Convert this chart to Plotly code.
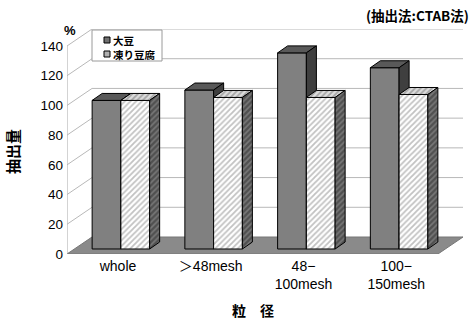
import plotly.graph_objects as go

# --- data -------------------------------------------------------------
categories = ["whole", "＞48mesh", "48−<br>100mesh", "100−<br>150mesh"]
series_names = ["大豆", "凍り豆腐"]
soybean = [100, 107, 132, 122]
frozen_tofu = [100, 102, 102, 104]
y_ticks = [0, 20, 40, 60, 80, 100, 120, 140]

# --- 3-D look parameters (data units) ---------------------------------
DX, DY = 0.27, 11.44        # depth of the floor / walls
BW = 0.31                   # bar width
BDX, BDY = 0.108, 4.7       # depth of each bar
OX, OY = (DX - BDX) / 2, (DY - BDY) / 2   # bars sit mid-depth
YMAX = 140

W, H = 473, 320
ML, MR, MT, MB = 67, 10, 29, 66
PW, PH = W - ML - MR, H - MT - MB

n = len(categories)
x0_axis, x1_axis = -0.5, n - 0.5

fig = go.Figure()


def poly(xs, ys, fill, line="black", width=1, pattern=None):
    kw = dict(fillpattern=pattern) if pattern else {}
    fig.add_trace(go.Scatter(
        x=xs + [xs[0]], y=ys + [ys[0]], mode="lines", fill="toself",
        fillcolor=fill, line=dict(color=line, width=width),
        hoverinfo="skip", showlegend=False, **kw))


# floor
poly([x0_axis, x1_axis, x1_axis + DX, x0_axis + DX],
     [0, 0, DY, DY], "#8a8a8a", line="#777777")

# walls: front-left edge, side-wall diagonals and back-wall gridlines
fig.add_trace(go.Scatter(x=[x0_axis, x0_axis], y=[0, YMAX], mode="lines",
                         line=dict(color="#a8a8a8", width=1),
                         hoverinfo="skip", showlegend=False))
for v in y_ticks[1:]:
    fig.add_trace(go.Scatter(
        x=[x0_axis, x0_axis + DX, x1_axis + DX], y=[v, v + DY, v + DY],
        mode="lines", line=dict(color="#b8b8b8", width=1),
        hoverinfo="skip", showlegend=False))

hatch_front = dict(shape="/", bgcolor="#ffffff", fgcolor="#858585", size=4, solidity=0.45)
hatch_top = dict(shape="/", bgcolor="#dcdcdc", fgcolor="#6e6e6e", size=4, solidity=0.45)
hatch_side = dict(shape="/", bgcolor="#505050", fgcolor="#a0a0a0", size=4, solidity=0.4)


def bar3d(xl, v, front, top, side, pf=None, pt=None, ps=None):
    xr = xl + BW
    b, t = OY, OY + v
    poly([xl, xr, xr, xl], [b, b, t, t], front, pattern=pf)
    poly([xl, xr, xr + BDX, xl + BDX], [t, t, t + BDY, t + BDY], top, pattern=pt)
    poly([xr, xr + BDX, xr + BDX, xr], [b, b + BDY, t + BDY, t], side, pattern=ps)


for i in range(n):
    bar3d(i + OX - BW, soybean[i], "#808080", "#595959", "#3f3f3f")
    bar3d(i + OX, frozen_tofu[i], "#ffffff", "#d8d8d8", "#5a5a5a",
          hatch_front, hatch_top, hatch_side)

tick_family = "Liberation Sans, Arial, Noto Sans CJK JP, sans-serif"
fig.update_layout(
    width=W, height=H,
    margin=dict(l=ML, r=MR, t=MT, b=MB),
    paper_bgcolor="white", plot_bgcolor="white",
    showlegend=False,
    font=dict(family=tick_family, color="black"),
    xaxis=dict(range=[x0_axis, x1_axis + DX], showgrid=False, zeroline=False,
               showline=False, tickmode="array",
               tickvals=[i + 0.05 for i in range(n)], ticktext=categories,
               tickfont=dict(size=14), ticks="", ticklabelstandoff=2),
    yaxis=dict(range=[0, YMAX + DY], showgrid=False, zeroline=False,
               showline=False, tickmode="array", tickvals=y_ticks,
               tickfont=dict(size=13.5), ticks="", ticklabelstandoff=3),
)


def px(x):
    return (x - ML) / PW


def py(y):
    return (H - MB - y) / PH


cjk = "Noto Sans CJK JP, sans-serif"
ann = [
    dict(text="<b>%</b>", x=px(70), y=py(31), font=dict(size=13)),
    dict(text="<b>(抽出法:CTAB法)</b>", x=px(470), y=py(15), xanchor="right",
         font=dict(size=13.5, family=cjk)),
    dict(text="<b>抽出量</b>", x=px(12), y=py(152), textangle=-90,
         font=dict(size=15, family=cjk)),
    dict(text="<b>粒　径</b>", x=px(253), y=py(310), font=dict(size=14, family=cjk)),
    dict(text="<b>" + series_names[0] + "</b>", x=px(112), y=py(40), xanchor="left",
         font=dict(size=10.5, family=cjk)),
    dict(text="<b>" + series_names[1] + "</b>", x=px(112), y=py(54), xanchor="left",
         font=dict(size=10.5, family=cjk)),
]
for a in ann:
    a.setdefault("xanchor", "center")
    a.update(xref="paper", yref="paper", yanchor="middle", showarrow=False,
             borderpad=0)
fig.update_layout(annotations=ann)

# legend box with its two swatches
shapes = [
    dict(type="rect", x0=px(92), x1=px(162), y0=py(61), y1=py(30),
         line=dict(color="#9a9a9a", width=1), fillcolor="white"),
    dict(type="rect", x0=px(104), x1=px(110), y0=py(43), y1=py(37),
         line=dict(color="black", width=1), fillcolor="#707070"),
    dict(type="rect", x0=px(104), x1=px(110), y0=py(57), y1=py(51),
         line=dict(color="black", width=1), fillcolor="#b0b0b0"),
]
for s in shapes:
    s.update(xref="paper", yref="paper", layer="above")
fig.update_layout(shapes=shapes)

fig.write_html("out.html")
